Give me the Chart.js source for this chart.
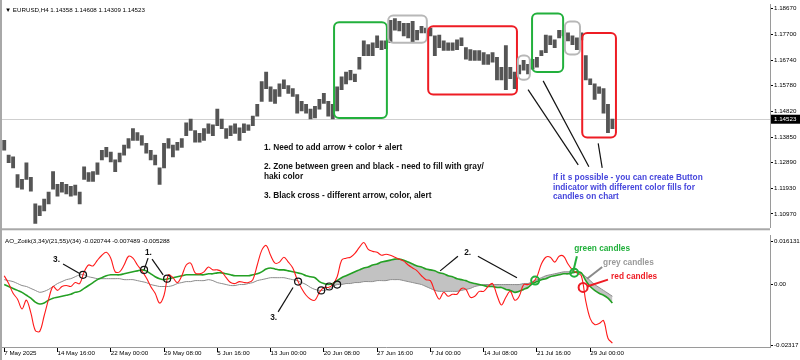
<!DOCTYPE html>
<html>
<head>
<meta charset="utf-8">
<script src="https://cdn.jsdelivr.net/npm/chart.js@4.4.1/dist/chart.umd.min.js"></script>
<style>
  html, body { margin: 0; padding: 0; background: #fff; }
  #wrap { position: relative; width: 800px; height: 360px; overflow: hidden; background: #fff; }
  #priceChart { position: absolute; left: 0; top: 0; }
  #aoChart { position: absolute; left: 0; top: 231px; }
</style>
</head>
<body>
<div id="wrap">
  <canvas id="priceChart" width="800" height="232"></canvas>
  <canvas id="aoChart" width="800" height="129"></canvas>
</div>
<script>
// ---- data ----
const symbol = 'EURUSD,H4';
const quote = [1.14358, 1.14608, 1.14309, 1.14523]; // open high low close
const aoTitle = 'AO_Zotik(3,34)/(21,55)/(34)';
const aoLast = ['-0.020744', '-0.007489', '-0.005288'];

const xTickLabels = ['7 May 2025', '14 May 16:00', '22 May 00:00', '29 May 08:00', '5 Jun 16:00', '13 Jun 00:00',
  '20 Jun 08:00', '27 Jun 16:00', '7 Jul 00:00', '14 Jul 08:00', '21 Jul 16:00', '29 Jul 00:00'];
const barsPerLabel = 12;
const slotCount = 173;

const priceTicks = [1.18670, 1.17700, 1.16740, 1.15780, 1.14820, 1.13850, 1.12890, 1.11930, 1.10970];
const aoTicks = [0.016131, 0, -0.02317];
const aoTickLabels = ['0.016131', '0.00', '-0.02317'];

const highs = [
  1.1373,1.1318,1.1311,1.1245,1.1227,1.1289,1.1234,1.1135,1.1128,1.1153,
  1.1179,1.1256,1.1208,1.1216,1.1208,1.1201,1.1205,1.1179,1.1274,1.1252,
  1.1256,1.1289,1.1336,1.1347,1.1329,1.1300,1.1325,1.1355,1.1380,1.1417,
  1.1402,1.1391,1.1362,1.1336,1.1318,1.1270,1.1362,1.1380,1.1355,1.1366,
  1.1380,1.1439,1.1453,1.1410,1.1399,1.1417,1.1435,1.1431,1.1490,1.1453,
  1.1417,1.1428,1.1435,1.1420,1.1435,1.1431,1.1464,1.1508,1.1593,1.1629,
  1.1574,1.1563,1.1585,1.1600,1.1578,1.1567,1.1545,1.1519,1.1508,1.1490,
  1.1501,1.1527,1.1549,1.1519,1.1508,1.1574,1.1611,1.1629,1.1636,1.1622,
  1.1684,1.1746,1.1732,1.1739,1.1765,1.1746,1.1746,1.1823,1.1830,1.1819,
  1.1812,1.1812,1.1819,1.1786,1.1801,1.1794,1.1794,1.1765,1.1768,1.1746,
  1.1739,1.1739,1.1750,1.1757,1.1721,1.1713,1.1710,1.1710,1.1702,1.1695,
  1.1702,1.1684,1.1647,1.1728,1.1647,1.1629,1.1655,1.1673,1.1658,1.1677,
  1.1684,1.1710,1.1768,1.1765,1.1750,1.1786,1.1786,1.1776,1.1765,1.1757,
  1.1776,1.1691,1.1604,1.1585,1.1574,1.1567,1.1508,1.1453
];
const lows = [
  1.1336,1.1289,1.1270,1.1197,1.1190,1.1227,1.1183,1.1062,1.1091,1.1109,
  1.1135,1.1190,1.1164,1.1179,1.1172,1.1164,1.1168,1.1135,1.1227,1.1219,
  1.1219,1.1245,1.1300,1.1311,1.1292,1.1256,1.1292,1.1318,1.1344,1.1373,
  1.1373,1.1355,1.1325,1.1300,1.1281,1.1208,1.1270,1.1344,1.1311,1.1336,
  1.1347,1.1391,1.1410,1.1366,1.1366,1.1373,1.1399,1.1391,1.1428,1.1417,
  1.1380,1.1391,1.1399,1.1373,1.1402,1.1410,1.1428,1.1464,1.1519,1.1567,
  1.1519,1.1512,1.1538,1.1567,1.1549,1.1538,1.1475,1.1483,1.1475,1.1453,
  1.1457,1.1490,1.1512,1.1464,1.1453,1.1483,1.1563,1.1585,1.1600,1.1593,
  1.1640,1.1691,1.1691,1.1691,1.1721,1.1713,1.1717,1.1739,1.1786,1.1783,
  1.1765,1.1757,1.1739,1.1750,1.1776,1.1776,1.1765,1.1691,1.1721,1.1710,
  1.1710,1.1710,1.1713,1.1728,1.1677,1.1673,1.1673,1.1673,1.1658,1.1658,
  1.1666,1.1600,1.1600,1.1563,1.1604,1.1567,1.1622,1.1636,1.1622,1.1640,
  1.1647,1.1691,1.1702,1.1732,1.1721,1.1757,1.1765,1.1746,1.1732,1.1713,
  1.1750,1.1600,1.1582,1.1527,1.1549,1.1475,1.1402,1.1417
];

// AO fast line (red)
const aoFast = [
  0.00315,0.00019,-0.00352,-0.00575,-0.00946,-0.00612,-0.01094,-0.01761,-0.01798,-0.01205,
  -0.00575,-0.00093,-0.00241,-0.00093,-0.00056,-0.00093,0.00056,0.00019,0.00464,0.00723,
  0.00686,0.00908,0.01094,0.01205,0.00983,0.00464,0.00464,0.00723,0.01057,0.00983,
  0.00723,0.00501,0.00241,-0.00093,-0.00352,-0.00723,-0.00426,0.00352,0.00241,0.00056,
  0.00315,0.00723,0.00797,0.00426,0.00389,0.00464,0.00649,0.00538,0.00538,0.00464,
  0.00241,0.00056,0.00019,0.00093,0.00056,0.00056,0.00167,0.00723,0.01279,0.01465,
  0.01094,0.00797,0.00834,0.01020,0.00834,0.00612,0.00167,-0.00167,-0.00426,-0.00575,
  -0.00612,-0.00315,-0.00130,-0.00130,-0.00019,0.00278,0.00908,0.00983,0.01020,0.01168,
  0.01391,0.01576,0.01316,0.01242,0.01205,0.01094,0.01131,0.01094,0.01020,0.00946,
  0.00871,0.00723,0.00612,0.00501,0.00315,0.00167,0.00130,-0.00278,-0.00575,-0.00315,
  -0.00464,-0.00389,-0.00389,-0.00167,-0.00204,-0.00501,-0.00464,-0.00278,-0.00278,-0.00093,
  0.00019,-0.00426,-0.00797,-0.00501,-0.00278,-0.00612,-0.00464,-0.00019,-0.00019,0.00056,
  0.00278,0.00760,0.01020,0.01020,0.00834,0.01057,0.01057,0.00760,0.00538,0.00426,
  0.00315,-0.00649,-0.01316,-0.01539,-0.01502,-0.01391,-0.02057,-0.02243
];
// slow line (green)
const aoSlow = [
  -0.00019,-0.00093,-0.00167,-0.00241,-0.00315,-0.00426,-0.00538,-0.00686,-0.00760,-0.00723,
  -0.00612,-0.00538,-0.00501,-0.00464,-0.00426,-0.00389,-0.00315,-0.00278,-0.00167,-0.00056,
  0.00056,0.00167,0.00241,0.00315,0.00352,0.00352,0.00352,0.00389,0.00426,0.00464,
  0.00501,0.00538,0.00501,0.00389,0.00278,0.00204,0.00167,0.00204,0.00241,0.00278,
  0.00315,0.00352,0.00352,0.00352,0.00352,0.00352,0.00389,0.00389,0.00426,0.00426,
  0.00389,0.00352,0.00315,0.00315,0.00315,0.00315,0.00352,0.00389,0.00464,0.00575,
  0.00612,0.00575,0.00538,0.00538,0.00501,0.00464,0.00426,0.00389,0.00315,0.00278,
  0.00241,0.00093,0.00019,-0.00019,0.00019,0.00130,0.00241,0.00315,0.00389,0.00464,
  0.00538,0.00612,0.00649,0.00723,0.00760,0.00834,0.00871,0.00908,0.00946,0.00946,
  0.00908,0.00834,0.00760,0.00686,0.00649,0.00575,0.00538,0.00501,0.00426,0.00389,
  0.00315,0.00278,0.00204,0.00167,0.00130,0.00056,0.00019,-0.00019,-0.00056,-0.00093,
  -0.00093,-0.00130,-0.00130,-0.00204,-0.00241,-0.00315,-0.00278,-0.00204,-0.00130,0.00019,
  0.00093,0.00167,0.00204,0.00278,0.00315,0.00352,0.00389,0.00389,0.00426,0.00464,
  0.00426,0.00130,-0.00093,-0.00241,-0.00352,-0.00426,-0.00538,-0.00723
];
// signal line (grey)
const aoSignal = [
  0.00167,0.00130,0.00093,0.00019,-0.00056,-0.00093,-0.00167,-0.00241,-0.00315,-0.00278,
  -0.00204,-0.00093,0.00019,0.00093,0.00167,0.00204,0.00278,0.00352,0.00352,0.00278,
  0.00241,0.00204,0.00204,0.00204,0.00204,0.00204,0.00204,0.00167,0.00167,0.00167,
  0.00130,0.00093,0.00056,-0.00019,-0.00056,-0.00093,-0.00093,-0.00093,-0.00056,0.00019,
  0.00056,0.00093,0.00093,0.00130,0.00130,0.00130,0.00167,0.00130,0.00056,0.00019,
  -0.00019,-0.00056,-0.00056,-0.00019,-0.00019,0.00019,0.00056,0.00130,0.00167,0.00204,
  0.00241,0.00241,0.00241,0.00241,0.00204,0.00167,0.00130,0.00056,-0.00019,-0.00130,
  -0.00204,-0.00241,-0.00241,-0.00204,-0.00093,-0.00019,-0.00019,0.00019,0.00019,0.00056,
  0.00056,0.00093,0.00093,0.00093,0.00130,0.00130,0.00130,0.00167,0.00167,0.00167,
  0.00130,0.00093,0.00056,0.00019,-0.00019,-0.00093,-0.00167,-0.00241,-0.00278,-0.00278,
  -0.00278,-0.00278,-0.00278,-0.00241,-0.00204,-0.00167,-0.00093,-0.00056,-0.00019,-0.00019,
  -0.00019,-0.00019,-0.00019,-0.00019,-0.00019,-0.00019,-0.00019,0.00019,0.00019,0.00093,
  0.00167,0.00241,0.00315,0.00352,0.00389,0.00426,0.00464,0.00464,0.00464,0.00426,
  0.00389,0.00278,0.00130,-0.00019,-0.00130,-0.00241,-0.00352,-0.00464
];
const zoneStart = 74; // grey fill between green and grey from this bar

// annotations (bar index / price or indicator value)
const GREEN = '#22b03c', RED = '#ee1c24', GREY = '#b8b8b8';
const priceBoxes = [
  { from: 74.3, to: 86.2, hi: 1.1816, lo: 1.1457, color: GREEN },
  { from: 86.5, to: 95.2, hi: 1.1841, lo: 1.1739, color: GREY },
  { from: 95.5, to: 115.5, hi: 1.1801, lo: 1.1545, color: RED },
  { from: 115.7, to: 118.4, hi: 1.1691, lo: 1.1600, color: GREY },
  { from: 118.9, to: 125.9, hi: 1.1849, lo: 1.1629, color: GREEN },
  { from: 126.3, to: 129.7, hi: 1.1819, lo: 1.1695, color: GREY },
  { from: 130.2, to: 137.8, hi: 1.1776, lo: 1.1384, color: RED }
];
const priceLines = [
  { s0: 118.0, v0: 1.1563, s1: 129.3, v1: 1.1281 },
  { s0: 121.4, v0: 1.1596, s1: 131.7, v1: 1.1274 },
  { s0: 133.8, v0: 1.1362, s1: 134.7, v1: 1.1270 }
];
const NOTE_FONT = 'bold 8.3px "Liberation Sans", Arial, sans-serif';
const priceNotes = [
  { text: '1. Need to add arrow + color + alert', s: 58.5, v: 1.1347, color: '#111' },
  { text: '2. Zone between green and black - need to fill with gray/', s: 58.5, v: 1.1274, color: '#111' },
  { text: 'haki color', s: 58.5, v: 1.1238, color: '#111' },
  { text: '3. Black cross - different arrow, color, alert', s: 58.5, v: 1.1164, color: '#111' },
  { text: 'If it s possible - you can create Button', s: 123.6, v: 1.1234, color: '#4646dc' },
  { text: 'indicator with different color fills for', s: 123.6, v: 1.1197, color: '#4646dc' },
  { text: 'candles on chart', s: 123.6, v: 1.1161, color: '#4646dc' }
];

const aoLines = [
  { s0: 13.25, v0: 0.00760, s1: 17.08, v1: 0.00389 },
  { s0: 32.4, v0: 0.00983, s1: 31.5, v1: 0.00538 },
  { s0: 33.3, v0: 0.00946, s1: 35.8, v1: 0.00352 },
  { s0: 61.7, v0: -0.01057, s1: 65.06, v1: -0.00130 },
  { s0: 102.2, v0: 0.01057, s1: 98.2, v1: 0.00501 },
  { s0: 106.7, v0: 0.01057, s1: 115.5, v1: 0.00241 },
  { s0: 129.0, v0: 0.01057, s1: 128.1, v1: 0.00426, color: GREEN, width: 2 },
  { s0: 134.7, v0: 0.00649, s1: 131.3, v1: 0.00204, color: '#8a8a8a', width: 2 },
  { s0: 136.0, v0: 0.00167, s1: 131.3, v1: -0.00093, color: RED, width: 2 }
];
const aoRings = [
  { s: 17.75, v: 0.00352 }, { s: 31.5, v: 0.00538 }, { s: 36.7, v: 0.00204 },
  { s: 66.2, v: 0.00093 }, { s: 71.4, v: -0.00241 }, { s: 73.2, v: -0.00093 }, { s: 75.0, v: -0.00019 },
  { s: 119.6, v: 0.00130, color: GREEN, width: 2, r: 4 },
  { s: 128.4, v: 0.00426, color: GREEN, width: 2, r: 4 },
  { s: 130.4, v: -0.00130, color: RED, width: 2, r: 4.5 }
];
const aoNotes = [
  { text: '3.', s: 11.0, v: 0.00908, color: '#111' },
  { text: '1.', s: 31.7, v: 0.01205, color: '#111' },
  { text: '3.', s: 59.9, v: -0.01279, color: '#111' },
  { text: '2.', s: 103.6, v: 0.01205, color: '#111' },
  { text: 'green candles', s: 128.4, v: 0.01353, color: GREEN },
  { text: 'grey candles', s: 134.9, v: 0.00797, color: '#9a9a9a' },
  { text: 'red candles', s: 136.7, v: 0.00278, color: RED }
];

// ---- helpers ----
const labels = Array.from({ length: slotCount }, (_, i) =>
  i % barsPerLabel === 0 && xTickLabels[i / barsPerLabel] ? xTickLabels[i / barsPerLabel] : '');
const AXIS_FONT = { family: '"Liberation Sans", Arial, sans-serif', size: 6.2 };

const notesPlugin = {
  id: 'notes',
  afterDatasetsDraw(chart, args, opts) {
    const { ctx, chartArea: a } = chart;
    const xs = chart.scales.x, ys = chart.scales.y;
    const X = s => xs.getPixelForValue(s);
    const Y = v => ys.getPixelForValue(v);
    ctx.save();
    ctx.beginPath();
    ctx.rect(a.left, a.top, a.right - a.left, a.bottom - a.top);
    ctx.clip();
    (opts.boxes || []).forEach(b => {
      const x0 = X(b.from), x1 = X(b.to), y0 = Y(b.hi), y1 = Y(b.lo);
      ctx.beginPath();
      ctx.roundRect(x0, y0, x1 - x0, y1 - y0, 5);
      ctx.lineWidth = 2;
      ctx.strokeStyle = b.color;
      ctx.stroke();
    });
    (opts.lines || []).forEach(l => {
      ctx.beginPath();
      ctx.moveTo(X(l.s0), Y(l.v0));
      ctx.lineTo(X(l.s1), Y(l.v1));
      ctx.lineWidth = l.width || 1.2;
      ctx.strokeStyle = l.color || '#111';
      ctx.stroke();
    });
    (opts.rings || []).forEach(r => {
      ctx.beginPath();
      ctx.arc(X(r.s), Y(r.v), r.r || 3.5, 0, Math.PI * 2);
      ctx.lineWidth = r.width || 1.2;
      ctx.strokeStyle = r.color || '#111';
      ctx.stroke();
    });
    ctx.font = NOTE_FONT;
    ctx.textBaseline = 'middle';
    ctx.textAlign = 'left';
    (opts.notes || []).forEach(t => {
      ctx.fillStyle = t.color;
      ctx.fillText(t.text, X(t.s), Y(t.v));
    });
    ctx.restore();
  },
  afterDraw(chart, args, opts) {
    const { ctx, chartArea: a } = chart;
    ctx.save();
    // pane frame
    ctx.fillStyle = '#a8a8a8';
    ctx.fillRect(0, 0, 2, chart.height);
    if (opts.separator) ctx.fillRect(0, a.bottom + 1, a.right, 2);
    // pane title
    ctx.font = '6.2px "Liberation Sans", Arial, sans-serif';
    ctx.fillStyle = '#000';
    ctx.textBaseline = 'middle';
    ctx.fillText(opts.title, a.left + 3, a.top + 5.5);
    // current price tag
    if (opts.lastPrice) {
      const y = chart.scales.y.getPixelForValue(opts.lastPrice);
      ctx.fillStyle = '#000';
      ctx.fillRect(a.right + 1, y - 4.5, 29, 9);
      ctx.fillStyle = '#fff';
      ctx.fillText(opts.lastPrice.toFixed(5), a.right + 4, y);
    }
    ctx.restore();
  },
  beforeDatasetsDraw(chart, args, opts) {
    if (!opts.lastPrice) return;
    const { ctx, chartArea: a } = chart;
    const y = Math.round(chart.scales.y.getPixelForValue(opts.lastPrice)) + 0.5;
    ctx.save();
    ctx.strokeStyle = '#cfcfcf';
    ctx.lineWidth = 1;
    ctx.beginPath();
    ctx.moveTo(a.left, y);
    ctx.lineTo(a.right, y);
    ctx.stroke();
    ctx.restore();
  }
};

function rightAxis(min, max, tickValues, fmt) {
  return {
    position: 'right',
    min: min,
    max: max,
    afterFit: s => { s.width = 30; },
    afterBuildTicks: s => { s.ticks = tickValues.map(v => ({ value: v })); },
    grid: { drawOnChartArea: false, tickLength: 3, color: '#000' },
    border: { color: '#9a9a9a' },
    ticks: { color: '#000', font: AXIS_FONT, padding: 1, callback: fmt }
  };
}

// ---- price pane ----
new Chart(document.getElementById('priceChart'), {
  type: 'bar',
  data: {
    labels: labels,
    datasets: [{
      data: lows.map((lo, i) => [lo, highs[i]]),
      backgroundColor: '#555555',
      barThickness: 3.2
    }]
  },
  options: {
    responsive: false,
    animation: false,
    layout: { padding: { top: 1, left: 2, bottom: 3, right: 0 } },
    plugins: {
      legend: { display: false },
      tooltip: { enabled: false },
      notes: {
        title: '\u25BC ' + symbol + ' ' + quote.map(q => q.toFixed(5)).join(' '),
        lastPrice: quote[3],
        separator: true,
        boxes: priceBoxes,
        lines: priceLines,
        notes: priceNotes
      }
    },
    scales: {
      x: { display: false },
      y: rightAxis(1.10472, 1.18816, priceTicks, v => v.toFixed(5))
    }
  },
  plugins: [notesPlugin]
});

// ---- indicator pane ----
new Chart(document.getElementById('aoChart'), {
  type: 'line',
  data: {
    labels: labels,
    datasets: [
      {
        data: aoFast,
        borderColor: '#ff1a1a',
        borderWidth: 1.1,
        pointRadius: 0,
        tension: 0.35,
        fill: false
      },
      {
        data: aoSlow,
        borderColor: '#24a024',
        borderWidth: 1.6,
        pointRadius: 0,
        tension: 0.3,
        backgroundColor: '#c2c2c2',
        fill: '+1',
        segment: {
          backgroundColor: c => c.p0DataIndex >= zoneStart ? '#c2c2c2' : 'rgba(0,0,0,0)'
        }
      },
      {
        data: aoSignal,
        borderColor: '#8c8c8c',
        borderWidth: 1,
        pointRadius: 0,
        tension: 0.3,
        fill: false
      }
    ]
  },
  options: {
    responsive: false,
    animation: false,
    layout: { padding: { top: 2, left: 2, bottom: 0, right: 0 } },
    plugins: {
      legend: { display: false },
      tooltip: { enabled: false },
      filler: { drawTime: 'beforeDatasetsDraw' },
      notes: {
        title: aoTitle + ' ' + aoLast.join(' '),
        lines: aoLines,
        rings: aoRings,
        notes: aoNotes
      }
    },
    scales: {
      x: {
        offset: true,
        afterFit: s => { s.height = 13; },
        grid: {
          drawOnChartArea: false,
          tickLength: 5,
          color: c => (c.tick && c.tick.label) ? '#000' : 'rgba(0,0,0,0)'
        },
        border: { color: '#9a9a9a' },
        ticks: { autoSkip: false, maxRotation: 0, align: 'start', padding: -2, color: '#000', font: AXIS_FONT }
      },
      y: rightAxis(-0.02392, 0.01836, aoTicks, v => aoTickLabels[aoTicks.indexOf(v)])
    }
  },
  plugins: [notesPlugin]
});
</script>
</body>
</html>
